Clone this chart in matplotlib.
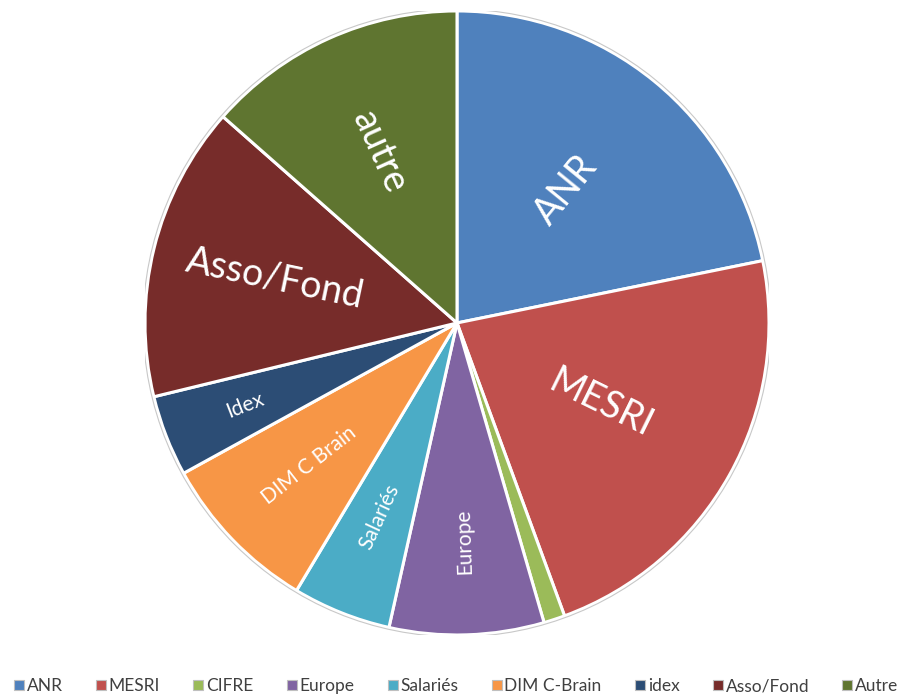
import numpy as np
import matplotlib
matplotlib.use("Agg")
import matplotlib.pyplot as plt
from matplotlib.patches import Circle
from matplotlib.lines import Line2D

# shares (%), clockwise from 12 o'clock
slice_labels = ["ANR", "MESRI", "CIFRE", "Europe", "Salariés", "DIM C Brain", "Idex", "Asso/Fond", "autre"]
legend_labels = ["ANR", "MESRI", "CIFRE", "Europe", "Salariés", "DIM C-Brain", "idex", "Asso/Fond", "Autre"]
shares = [21.8, 22.6, 1.1, 8.0, 5.1, 8.4, 4.2, 15.3, 13.5]
colors = ["#4F81BD", "#C0504D", "#9BBB59", "#8064A2", "#4BACC6",
          "#F79646", "#2C4D75", "#772C2A", "#5F7530"]

# label style: (font size, radial distance, extra rotation) ; None = no label
label_style = [(27, 0.55, 0), (27, 0.53, 3), None, (15, 0.70, 0), (15, 0.67, -3),
               (15, 0.66, -6), (15, 0.73, 0), (27, 0.60, 2), (27, 0.60, 0)]

plt.rcParams['font.family'] = ['Lato', 'DejaVu Sans']

fig = plt.figure(figsize=(9.13, 6.98), dpi=100)
ax = fig.add_axes([0.1588, 0.0903, 0.6835, 0.894])

wedges, _ = ax.pie(shares, colors=colors, startangle=90, counterclock=False,
                   radius=1.0, wedgeprops=dict(edgecolor="white", linewidth=2.2))
ax.add_patch(Circle((0, 0), 1.006, fill=False, edgecolor="#C8C8C8", linewidth=0.8))
ax.set_xlim(-1, 1)
ax.set_ylim(-1, 1)
ax.set_aspect("equal")
ax.axis("off")

for w, lab, st in zip(wedges, slice_labels, label_style):
    if st is None:
        continue
    size, dist, drot = st
    mid = (w.theta1 + w.theta2) / 2.0
    a = np.deg2rad(mid)
    x, y = dist * np.cos(a), dist * np.sin(a)
    m = (mid + 180) % 360 - 180
    # keep the text readable (radial orientation)
    if m > 90:
        rot = m - 180
    elif m < -85:
        rot = m + 180
    else:
        rot = m
    ax.text(x, y, lab, color="white", fontsize=size, rotation=rot + drot,
            rotation_mode="anchor", ha="center", va="center")

handles = [Line2D([], [], marker="s", linestyle="none", markersize=7,
                  markerfacecolor=c, markeredgecolor="#BFBFBF", markeredgewidth=0.8)
           for c in colors]
fig.legend(handles, legend_labels, loc="center", bbox_to_anchor=(0.5, 0.017),
           ncol=9, frameon=False, fontsize=12.5, handlelength=0.5,
           handletextpad=0.2, columnspacing=1.95, labelcolor="#404040")

fig.savefig("out.png", dpi=100)
